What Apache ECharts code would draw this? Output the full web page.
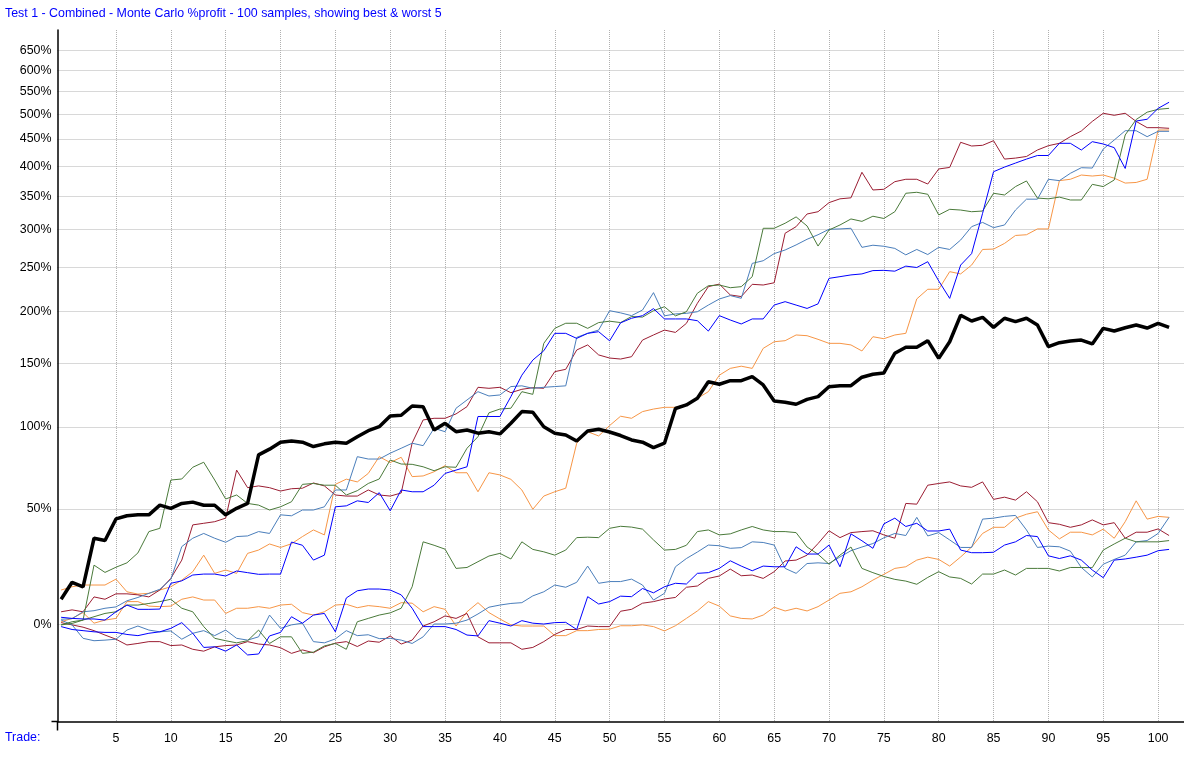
<!DOCTYPE html>
<html><head><meta charset="utf-8">
<script src="https://cdn.jsdelivr.net/npm/echarts@6/dist/echarts.min.js"></script>
<style>html,body{margin:0;padding:0;background:#fff}#c{width:1184px;height:761px}</style>
</head><body><div id="c"></div>
<script>
// Trade numbers (0..101)
const trades = [];
for (let i = 0; i <= 101; i++) trades.push(i);

// Tick labels
const yTickPercents = [0,50,100,150,200,250,300,350,400,450,500,550,600,650];
const xTickTrades = [5,10,15,20,25,30,35,40,45,50,55,60,65,70,75,80,85,90,95,100];

// %profit values
const actual = [9.2,15.9,14.1,35.3,34.2,44.8,46.4,46.9,46.9,52.0,50.3,52.9,53.6,51.9,51.9,46.9,50.3,52.9,81.3,85.0,89.6,90.4,89.6,86.7,88.5,89.6,88.9,93.3,97.4,100.2,107.9,108.4,115.3,114.8,97.9,102.6,96.7,97.9,95.7,96.7,95.2,102.6,111.1,110.6,100.2,95.7,94.5,90.4,97.2,98.4,96.5,94.1,91.1,89.6,86.0,88.9,113.4,116.1,121.2,134.5,132.4,135.3,135.3,138.7,131.8,119.1,118.2,116.6,120.4,122.5,130.4,131.2,131.2,138.2,140.7,141.8,159.1,164.6,164.6,170.8,154.5,169.8,196.1,190.2,194.0,183.8,193.0,189.5,193.0,186.1,165.2,168.9,170.5,171.4,167.7,182.8,180.2,183.4,186.1,183.1,187.8,183.8];

const redBest = [4.5,5.2,4.5,10.1,9.2,11.3,11.3,10.9,10.1,12.8,17.5,25.3,41.8,42.6,43.4,45.2,71.9,61.6,62.6,61.6,59.7,61.0,61.3,64.3,62.6,57.5,56.9,56.9,60.3,57.5,56.9,58.6,89.1,105.0,106.2,106.2,109.4,114.8,129.9,129.1,129.9,125.6,128.3,129.6,129.1,142.9,144.9,162.1,166.8,157.6,154.8,153.9,156.0,171.4,176.3,181.1,178.8,187.8,208.8,227.4,230.4,218.0,216.2,230.1,229.3,231.9,295.0,304.2,322.6,326.0,339.8,345.7,347.3,389.3,359.8,360.9,373.4,377.4,377.4,369.5,395.0,397.7,443.6,436.6,437.9,446.7,412.5,414.3,417.2,429.1,437.2,441.7,454.5,465.6,485.0,502.0,497.7,502.0,485.0,472.3,472.3,471.0];

const greenBest = [-0.2,0.3,1.5,23.1,20.0,22.2,24.1,28.5,38.5,40.1,66.0,66.6,73.6,76.7,66.0,55.3,57.5,52.9,52.0,49.4,51.1,53.8,63.5,64.0,63.0,63.0,57.5,59.9,64.0,66.6,78.1,75.6,75.4,73.9,71.5,73.9,73.6,85.6,93.3,110.2,113.0,113.6,126.4,124.3,168.3,182.8,187.9,187.9,182.8,188.6,190.0,188.6,194.8,194.2,200.9,205.1,195.5,199.8,219.9,228.5,229.3,226.2,227.4,239.1,301.9,301.9,309.1,318.3,305.2,277.6,299.5,306.6,315.3,311.8,319.3,316.0,326.0,354.5,356.1,352.9,321.2,329.6,328.5,326.0,327.0,354.5,351.8,365.3,374.6,346.9,345.7,348.4,343.9,343.9,369.0,365.3,376.2,457.8,488.9,504.3,510.4,512.5];

const steelBest = [1.8,2.0,4.5,4.9,5.8,6.3,8.6,9.9,11.5,13.1,17.1,31.4,35.3,37.6,35.3,33.4,36.1,36.4,38.5,37.6,46.9,46.4,49.4,49.4,51.1,60.3,60.3,80.2,78.7,78.7,82.4,85.6,88.9,87.3,99.1,96.7,113.6,119.9,126.4,123.0,123.8,130.5,131.1,129.1,129.9,130.5,131.1,174.0,177.9,181.1,200.9,198.6,195.7,201.6,220.6,195.5,197.5,198.1,199.8,206.9,213.5,217.3,214.3,255.3,258.6,267.7,272.4,279.1,286.7,292.9,300.5,301.0,301.9,275.9,278.7,277.3,274.5,266.1,273.1,266.5,275.9,273.1,285.7,304.2,310.3,302.8,306.6,328.5,345.2,345.2,377.4,375.1,387.5,397.2,396.6,430.9,448.0,466.2,466.2,454.5,465.0,465.0];

const blueBest = [2.5,2.1,1.9,1.9,1.5,4.5,7.0,5.4,5.4,5.5,15.5,16.5,18.9,19.3,19.3,18.5,20.6,19.9,19.2,19.3,19.3,33.5,32.0,25.3,27.5,51.1,51.6,54.3,53.4,58.8,49.0,60.3,59.3,59.3,63.0,69.9,71.9,73.9,107.5,107.5,107.5,122.5,139.9,153.0,161.4,177.9,177.9,173.0,177.9,179.5,170.7,188.3,193.0,195.7,203.1,192.3,192.3,192.3,190.5,180.1,195.7,191.2,187.2,192.3,192.3,206.9,210.6,206.9,203.3,208.2,237.1,239.1,241.2,242.4,246.4,246.7,245.7,251.9,250.2,257.4,234.1,214.2,253.2,267.7,323.6,390.3,398.3,405.4,412.5,419.0,419.0,441.7,441.7,429.1,444.8,440.4,433.5,395.9,485.8,489.4,512.5,525.7];

const orangeBest = [12.8,14.1,14.8,14.8,14.8,17.2,12.1,11.2,11.5,12.8,14.1,16.8,20.3,27.5,19.6,21.0,19.6,28.3,29.8,32.6,31.0,32.7,36.1,39.3,36.9,63.5,66.5,64.9,69.9,80.2,76.5,79.8,68.0,68.4,70.9,74.6,70.3,70.3,59.3,70.3,69.0,66.4,60.3,49.8,56.9,59.3,61.3,88.9,96.7,93.8,101.0,107.7,106.2,111.1,113.0,114.3,114.3,116.5,121.2,126.4,139.9,145.7,147.6,145.7,163.6,169.8,170.8,176.3,175.6,172.1,168.3,168.3,166.8,161.2,174.6,172.7,176.3,177.9,213.6,224.4,224.4,245.1,242.4,253.2,273.1,273.6,281.1,291.9,292.9,301.0,301.0,375.1,377.4,384.6,382.9,384.6,379.3,371.1,372.1,377.4,467.6,467.6];

const redWorst = [0.6,-0.2,-1.0,-2.2,-3.7,-5.1,-7.0,-6.5,-5.9,-5.9,-7.2,-7.0,-8.4,-9.0,-7.6,-7.2,-7.0,-5.9,-6.7,-7.0,-7.9,-9.7,-8.6,-9.5,-7.6,-6.4,-5.9,-7.5,-5.7,-6.1,-4.0,-6.7,-5.4,-0.6,0.9,3.0,2.1,3.9,-4.3,-6.3,-6.3,-6.3,-8.4,-7.8,-5.9,-3.5,-1.8,-1.8,-0.6,-0.8,-0.8,4.7,5.4,7.7,8.3,9.3,9.9,13.9,14.4,17.5,18.5,21.4,18.6,18.9,17.5,20.3,24.9,25.3,27.5,32.8,38.9,35.6,38.0,38.5,38.9,36.9,35.3,52.9,52.5,63.0,64.0,64.9,62.6,61.8,64.9,55.1,56.3,54.7,59.3,53.8,42.9,42.1,40.6,41.8,44.3,41.8,42.9,35.3,38.2,38.2,39.8,36.6];

const greenWorst = [-0.2,0.9,1.5,2.7,3.9,4.5,7.0,7.0,7.6,8.3,9.2,5.8,4.5,-0.8,-4.8,-5.6,-6.3,-5.6,-2.0,-6.5,-4.3,-4.3,-9.7,-9.3,-7.3,-6.5,-8.4,0.9,2.1,3.3,4.1,5.8,14.1,33.6,32.0,30.2,21.7,22.1,24.6,27.1,28.3,25.8,33.6,30.1,29.0,27.5,29.8,35.6,35.8,35.6,40.1,41.1,40.7,39.7,34.5,29.8,30.1,32.0,38.5,39.3,36.9,37.4,39.3,41.0,39.3,38.5,38.5,38.0,31.2,27.9,23.5,27.5,31.2,21.7,19.9,18.3,17.1,16.4,15.1,17.9,20.3,18.1,17.5,15.2,19.3,19.3,21.0,18.9,21.7,21.7,21.7,20.6,22.1,22.1,22.0,29.8,32.6,35.3,33.6,33.6,33.6,34.2];

const steelWorst = [1.5,-0.2,-4.8,-5.6,-5.4,-5.1,-2.0,-0.6,-2.0,-2.6,-2.3,-5.1,-3.1,-2.2,-3.9,-2.0,-4.8,-5.4,-4.3,3.3,-1.4,-0.2,0.4,-5.9,-6.3,-5.0,-2.2,-3.9,-3.6,-4.9,-4.8,-5.4,-6.5,-4.3,0.1,0.1,0.4,1.5,3.7,6.2,7.0,7.6,7.9,10.5,12.1,14.8,13.9,15.9,22.7,15.5,16.2,16.2,17.2,14.8,8.9,11.5,22.4,26.0,28.9,32.1,31.8,30.6,30.9,33.6,33.3,32.1,21.7,19.6,23.8,24.1,23.8,26.7,29.5,31.2,32.8,35.5,37.6,36.6,45.6,36.4,38.0,34.5,31.0,31.0,44.7,45.2,46.1,46.6,39.3,31.0,31.6,31.3,29.3,22.1,18.1,23.5,25.6,27.5,33.6,34.2,37.6,45.6];

const blueWorst = [-0.8,-1.8,-2.2,-2.6,-2.8,-2.8,-3.5,-3.9,-3.1,-2.6,-1.4,0.6,-3.1,-7.8,-7.6,-9.0,-7.0,-10.2,-9.9,-4.0,-2.8,2.7,0.4,3.3,3.9,-2.6,9.7,12.5,13.2,13.2,12.8,10.9,5.8,-0.8,-0.8,-0.8,-1.8,-3.7,-4.0,1.3,0.4,-0.6,1.3,0.4,0.1,0.6,0.7,-1.8,10.2,7.4,8.3,10.4,10.2,13.4,11.7,14.1,15.5,15.2,19.6,19.9,21.7,25.0,22.7,20.7,22.7,22.4,22.4,31.3,28.0,28.0,32.1,22.4,37.4,34.1,30.6,42.3,45.2,41.0,42.6,38.8,38.8,39.7,29.8,28.6,28.6,28.8,32.1,33.6,36.6,36.1,27.2,26.0,27.2,25.3,21.0,17.8,25.3,25.8,26.6,27.5,29.5,30.1];

const orangeWorst = [0.9,2.1,4.2,0.4,1.5,2.1,8.3,8.3,6.6,6.4,6.6,9.2,10.1,8.9,8.9,3.9,5.8,5.8,6.4,5.8,7.0,7.3,4.2,3.3,4.5,7.0,7.3,6.0,6.8,6.4,5.8,7.9,7.7,4.5,6.4,5.4,-0.6,4.5,7.9,4.2,1.9,-0.2,-0.6,-0.6,-0.6,-3.9,-3.9,-2.2,-2.2,-1.8,-1.7,-0.5,-0.5,-0.2,-0.8,-2.3,-0.5,2.1,4.8,8.3,6.6,3.0,2.1,1.9,3.3,6.2,4.8,5.8,4.8,6.4,8.9,11.5,12.1,14.1,16.8,19.2,21.7,22.4,25.3,26.6,25.6,22.7,26.7,31.2,37.6,40.6,40.6,45.2,47.2,48.5,39.3,35.0,38.2,38.2,36.9,39.7,35.3,43.4,54.3,44.7,46.1,45.6];

// log-of-growth scale: position ~ ln(1 + p/100)
const toY = p => Math.log(1 + p / 100);
const fromY = v => (Math.exp(v) - 1) * 100;

const C = { red:'#9b1d32', green:'#4a7a3a', steel:'#4a7ebb', blue:'#0000ff', orange:'#f79646' };
const FONT = 'Liberation Sans, Arial, sans-serif';

function line(name, arr, color, width, z) {
  return {
    name, type:'line', showSymbol:false, symbol:'none', z: z || 2,
    lineStyle:{ color, width }, itemStyle:{ color },
    data: trades.map((t, i) => [t, toY(arr[i])]),
    animation:false, silent:true
  };
}

const chart = echarts.init(document.getElementById('c'), null, { renderer:'canvas' });
chart.setOption({
  animation:false,
  backgroundColor:'#ffffff',
  title:{ text:'Test 1 - Combined - Monte Carlo %profit - 100 samples, showing best & worst 5',
    left:5, top:8, padding:0,
    textStyle:{ color:'#0000ff', fontSize:12.4, fontWeight:'normal', fontFamily:FONT } },
  grid:{ left:57.5, right:0, top:30, bottom:39.5, containLabel:false },
  xAxis:{
    type:'value', min:-0.33, max:102.36,
    axisLine:{ show:true, onZero:false, lineStyle:{ color:'#000', width:1.5 } },
    axisTick:{ show:false, customValues:xTickTrades },
    axisLabel:{ customValues:xTickTrades, color:'#000', fontSize:12.4, fontFamily:FONT, margin:11 },
    splitLine:{ show:true, lineStyle:{ color:'#b0b0b0', width:1, type:[1,1] } }
  },
  yAxis:{
    type:'value', min:Math.log(0.7108), max:Math.log(8.065),
    axisLine:{ show:true, onZero:false, lineStyle:{ color:'#000', width:1.5 } },
    axisTick:{ show:false, customValues:yTickPercents.map(toY) },
    axisLabel:{ customValues:yTickPercents.map(toY), color:'#000', fontSize:12.4, fontFamily:FONT, margin:6,
      formatter: v => Math.round(fromY(v)) + '%' },
    splitLine:{ show:true, lineStyle:{ color:'#b0b0b0', width:1, type:[1,1] } }
  },
  graphic:[
    { type:'text', left:5, top:732, style:{ text:'Trade:', fill:'#0000ff', font:'12.4px Liberation Sans, Arial, sans-serif' } },
    { type:'line', shape:{ x1:51.5, y1:721.5, x2:57.5, y2:721.5 }, style:{ stroke:'#000', lineWidth:1.5 } },
    { type:'line', shape:{ x1:57.5, y1:721.5, x2:57.5, y2:730.5 }, style:{ stroke:'#000', lineWidth:1.5 } }
  ],
  series:[
    line('Worst orange', orangeWorst, C.orange, 1),
    line('Worst red', redWorst, C.red, 1),
    line('Worst steel', steelWorst, C.steel, 1),
    line('Worst green', greenWorst, C.green, 1),
    line('Worst blue', blueWorst, C.blue, 1),
    line('Best orange', orangeBest, C.orange, 1),
    line('Best red', redBest, C.red, 1),
    line('Best steel', steelBest, C.steel, 1),
    line('Best green', greenBest, C.green, 1),
    line('Best blue', blueBest, C.blue, 1),
    line('Actual', actual, '#000000', 3.5, 5)
  ]
});
</script>
</body></html>
